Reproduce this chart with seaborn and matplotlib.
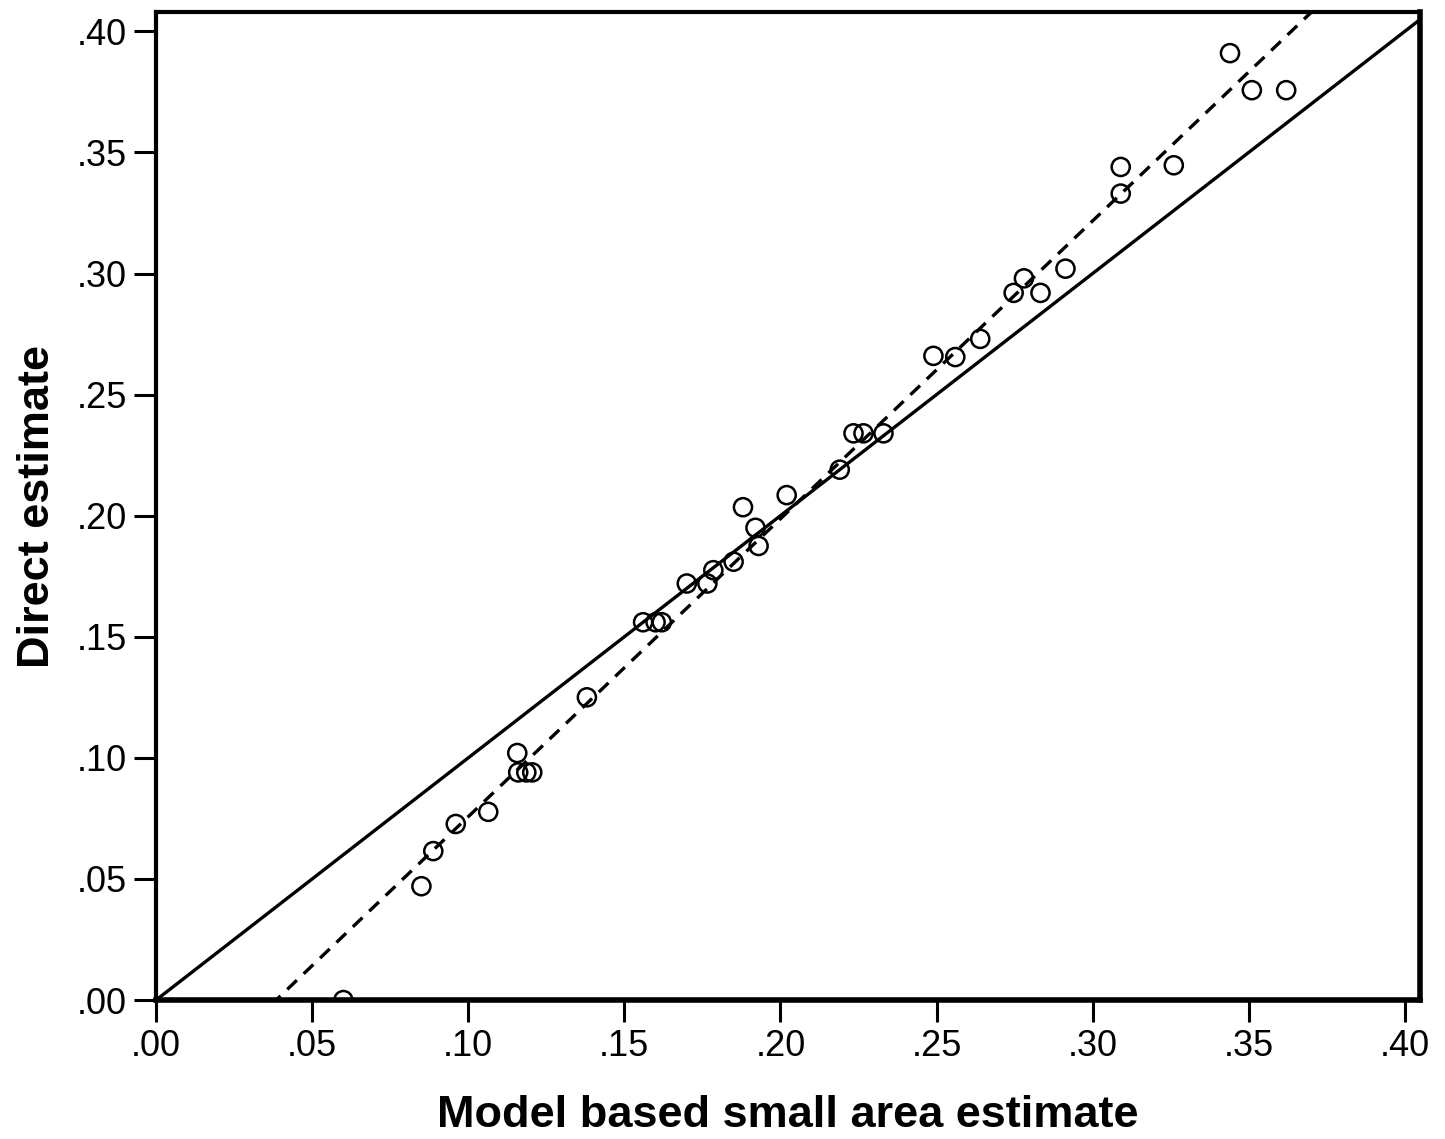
import numpy as np
import pandas as pd
import matplotlib.pyplot as plt
import seaborn as sns

# model based small area estimate (x) vs direct estimate (y)
model_est = [0.060, 0.085, 0.0888, 0.096, 0.1064, 0.1157, 0.116, 0.1186, 0.1205,
             0.138, 0.156, 0.160, 0.162, 0.170, 0.1766, 0.1785, 0.185, 0.188,
             0.192, 0.193, 0.202, 0.219, 0.2234, 0.2266, 0.233, 0.249, 0.256,
             0.264, 0.2747, 0.278, 0.2833, 0.2913, 0.309, 0.309, 0.326, 0.344,
             0.351, 0.362]
direct_est = [0.000, 0.047, 0.0615, 0.0727, 0.0777, 0.102, 0.094, 0.094, 0.094,
              0.125, 0.156, 0.156, 0.156, 0.172, 0.172, 0.1775, 0.181, 0.2035,
              0.195, 0.1875, 0.2085, 0.219, 0.234, 0.234, 0.234, 0.266, 0.2655,
              0.273, 0.292, 0.298, 0.292, 0.302, 0.344, 0.333, 0.3447, 0.391,
              0.3757, 0.3757]
ticks = [0.0, 0.05, 0.10, 0.15, 0.20, 0.25, 0.30, 0.35, 0.40]
tick_labels = ['.00', '.05', '.10', '.15', '.20', '.25', '.30', '.35', '.40']

df = pd.DataFrame({'model': model_est, 'direct': direct_est})

sns.set_style('white')
plt.rcParams['font.family'] = ['Liberation Sans', 'DejaVu Sans']
plt.rcParams['text.color'] = 'black'
plt.rcParams['axes.labelcolor'] = 'black'
plt.rcParams['xtick.color'] = 'black'
plt.rcParams['ytick.color'] = 'black'

fig = plt.figure(figsize=(14.45, 11.39), dpi=100)
ax = fig.add_axes([0.108, 0.122, 0.875, 0.8675])
ax.set_xlim(0, 0.405)
ax.set_ylim(0, 0.408)

# identity line
ax.plot([0, 0.405], [0, 0.405], color='black', lw=2.4, zorder=2)
# fitted line
sns.regplot(data=df, x='model', y='direct', scatter=False, ci=None, truncate=False,
            ax=ax, line_kws=dict(color='black', lw=2.4, ls=(0, (4.0, 2.8))))
sns.scatterplot(data=df, x='model', y='direct', ax=ax, marker='o', s=170,
                facecolor='none', edgecolor='black', linewidth=1.8, zorder=3)
ax.set_xlim(0, 0.405)
ax.set_ylim(0, 0.408)

ax.set_xticks(ticks)
ax.set_xticklabels(tick_labels)
ax.set_yticks(ticks)
ax.set_yticklabels(tick_labels)
ax.tick_params(axis='both', direction='out', length=16, width=2.2, labelsize=26,
               bottom=True, left=True, pad=5)
for s in ax.spines.values():
    s.set_color('black')
    s.set_linewidth(3)
ax.spines['bottom'].set_linewidth(4)
ax.spines['right'].set_linewidth(4)

ax.set_xlabel('Model based small area estimate', fontsize=32.5, fontweight='bold', labelpad=22)
ax.set_ylabel('Direct estimate', fontsize=32.5, fontweight='bold', labelpad=13)

fig.savefig('out.png', dpi=100)
